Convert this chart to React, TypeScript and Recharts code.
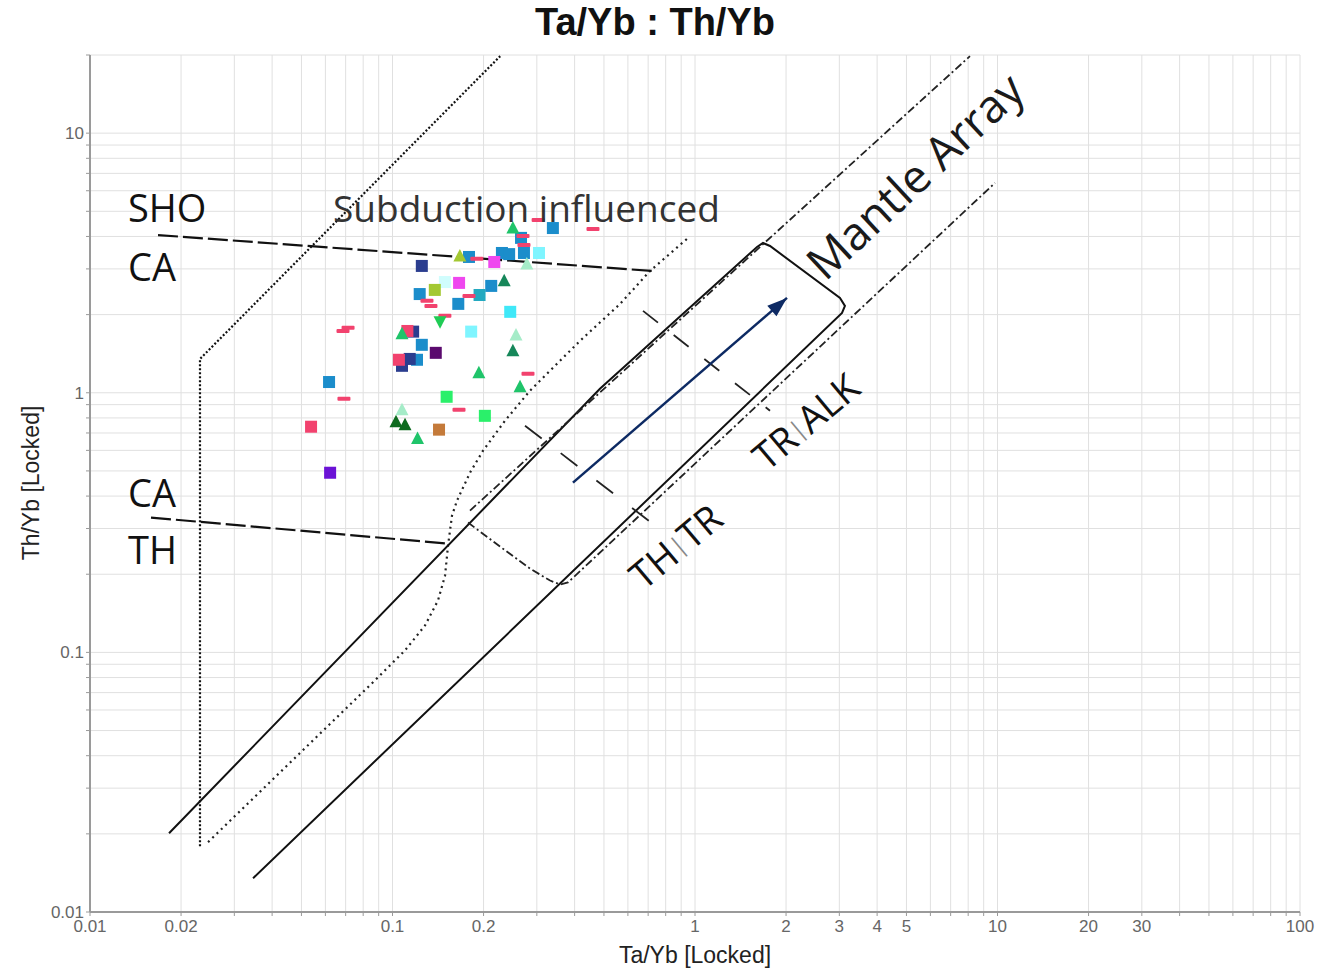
import React from "react";
import { ScatterChart, Scatter, XAxis, YAxis, CartesianGrid } from "recharts";

type Pt = { x: number; y: number };

// ---- axes ----
const X_TICKS = [
  0.01, 0.02, 0.03, 0.04, 0.05, 0.06, 0.07, 0.08, 0.09,
  0.1, 0.2, 0.3, 0.4, 0.5, 0.6, 0.7, 0.8, 0.9,
  1, 2, 3, 4, 5, 6, 7, 8, 9,
  10, 20, 30, 40, 50, 60, 70, 80, 90, 100,
];
const X_LABELLED = [0.01, 0.02, 0.1, 0.2, 1, 2, 3, 4, 5, 10, 20, 30, 100];
const Y_TICKS = [
  0.01, 0.02, 0.03, 0.04, 0.05, 0.06, 0.07, 0.08, 0.09,
  0.1, 0.2, 0.3, 0.4, 0.5, 0.6, 0.7, 0.8, 0.9,
  1, 2, 3, 4, 5, 6, 7, 8, 9, 10, 20,
];
const Y_LABELLED = [0.01, 0.1, 1, 10];

// ---- diagram boundaries ----
const LEFT_LIMIT: Pt[] = [
  { x: 0.0231, y: 0.0179 },
  { x: 0.0231, y: 1.35 },
  { x: 0.227, y: 19.8 },
];
const ARRAY_SOLID: Pt[] = [
  { x: 0.01825, y: 0.0201 },
  { x: 0.485, y: 1.036 },
  { x: 1.603, y: 3.643 },
  { x: 1.678, y: 3.776 },
  { x: 1.77, y: 3.676 },
  { x: 3.015, y: 2.32 },
  { x: 3.131, y: 2.161 },
  { x: 3.062, y: 2.031 },
  { x: 0.0346, y: 0.0135 },
];
const ARRAY_DASHDOT_UPPER: Pt[] = [
  { x: 0.1804, y: 0.3517 },
  { x: 8.11, y: 19.8 },
];
const ARRAY_DASHDOT_LOWER: Pt[] = [
  { x: 0.1777, y: 0.3162 },
  { x: 0.2266, y: 0.2557 },
  { x: 0.2847, y: 0.2104 },
  { x: 0.3318, y: 0.1891 },
  { x: 0.3579, y: 0.1826 },
  { x: 0.3803, y: 0.1859 },
  { x: 9.81, y: 6.43 },
];
const SHO_CA: Pt[] = [
  { x: 0.01678, y: 4.05 },
  { x: 0.721, y: 2.945 },
];
const CA_TH: Pt[] = [
  { x: 0.01591, y: 0.3306 },
  { x: 0.1514, y: 0.2625 },
];
const SUBDUCTION_LIMIT: Pt[] = [
  { x: 0.02456, y: 0.01859 },
  { x: 0.0875, y: 0.078 },
  { x: 0.11, y: 0.1018 },
  { x: 0.1281, y: 0.127 },
  { x: 0.1414, y: 0.1585 },
  { x: 0.1492, y: 0.1978 },
  { x: 0.1526, y: 0.2579 },
  { x: 0.1573, y: 0.3365 },
  { x: 0.1634, y: 0.3843 },
  { x: 0.1804, y: 0.4924 },
  { x: 0.1992, y: 0.5982 },
  { x: 0.2354, y: 0.7803 },
  { x: 0.2847, y: 1.018 },
  { x: 0.4168, y: 1.585 },
  { x: 0.5652, y: 2.199 },
  { x: 0.7099, y: 2.945 },
  { x: 0.9482, y: 3.947 },
];
const TH_TR_DIVIDE: Pt[] = [
  { x: 0.2742, y: 0.7465 },
  { x: 0.7376, y: 0.308 },
];
const TR_ALK_DIVIDE: Pt[] = [
  { x: 0.6732, y: 2.068 },
  { x: 1.77, y: 0.8528 },
];
const TREND_ARROW: Pt[] = [
  { x: 0.395, y: 0.4506 },
  { x: 2.014, y: 2.32 },
];

// ---- samples ----
const BLUE_SQ: Pt[] = [
  { x: 0.339, y: 4.31 }, { x: 0.266, y: 3.95 }, { x: 0.272, y: 3.455 },
  { x: 0.23, y: 3.455 }, { x: 0.243, y: 3.42 }, { x: 0.179, y: 3.335 },
  { x: 0.212, y: 2.58 }, { x: 0.165, y: 2.2 }, { x: 0.123, y: 2.4 },
  { x: 0.125, y: 1.53 }, { x: 0.1205, y: 1.34 }, { x: 0.0617, y: 1.1 },
];
const NAVY_SQ: Pt[] = [
  { x: 0.125, y: 3.08 }, { x: 0.117, y: 1.72 }, { x: 0.114, y: 1.35 }, { x: 0.1075, y: 1.27 },
];
const PINK_SQ: Pt[] = [{ x: 0.112, y: 1.73 }, { x: 0.105, y: 1.34 }, { x: 0.0538, y: 0.74 }];
const MAGENTA_SQ: Pt[] = [{ x: 0.217, y: 3.19 }, { x: 0.166, y: 2.65 }];
const TEAL_SQ: Pt[] = [{ x: 0.194, y: 2.38 }];
const CYAN_SQ: Pt[] = [{ x: 0.245, y: 2.05 }];
const LIGHT_CYAN_SQ: Pt[] = [{ x: 0.182, y: 1.72 }, { x: 0.305, y: 3.455 }];
const PALE_CYAN_SQ: Pt[] = [{ x: 0.149, y: 2.67 }];
const LIME_SQ: Pt[] = [{ x: 0.138, y: 2.49 }];
const PLUM_SQ: Pt[] = [{ x: 0.139, y: 1.425 }];
const VIOLET_SQ: Pt[] = [{ x: 0.0622, y: 0.492 }];
const GREEN_SQ: Pt[] = [{ x: 0.151, y: 0.965 }, { x: 0.202, y: 0.815 }];
const BROWN_SQ: Pt[] = [{ x: 0.1425, y: 0.721 }];
const PINK_DASH: Pt[] = [
  { x: 0.303, y: 4.63 }, { x: 0.46, y: 4.27 }, { x: 0.27, y: 4.02 }, { x: 0.272, y: 3.71 },
  { x: 0.19, y: 3.28 }, { x: 0.179, y: 2.36 }, { x: 0.13, y: 2.26 }, { x: 0.134, y: 2.16 },
  { x: 0.149, y: 1.98 }, { x: 0.0686, y: 1.73 }, { x: 0.0713, y: 1.78 }, { x: 0.2805, y: 1.183 },
  { x: 0.0691, y: 0.948 }, { x: 0.1659, y: 0.86 },
];
const GREEN_TRI: Pt[] = [
  { x: 0.25, y: 4.31 }, { x: 0.193, y: 1.194 }, { x: 0.264, y: 1.055 },
  { x: 0.121, y: 0.666 }, { x: 0.1075, y: 1.686 },
];
const DARK_GREEN_TRI: Pt[] = [{ x: 0.234, y: 2.7 }, { x: 0.25, y: 1.45 }];
const FOREST_TRI: Pt[] = [{ x: 0.1027, y: 0.774 }, { x: 0.11, y: 0.753 }];
const MINT_TRI: Pt[] = [{ x: 0.278, y: 3.135 }, { x: 0.256, y: 1.67 }, { x: 0.1075, y: 0.86 }];
const GREEN_DOWN_TRI: Pt[] = [{ x: 0.1436, y: 1.876 }];
const LIME_TRI: Pt[] = [{ x: 0.167, y: 3.365 }];

// ---- annotations ----
const REGION_LABELS = [
  { x: 0.01335, y: 5.19, text: "SHO" },
  { x: 0.01335, y: 3.08, text: "CA" },
  { x: 0.01335, y: 0.4161, text: "CA" },
  { x: 0.01335, y: 0.2512, text: "TH" },
];
const SUBDUCTION_LABEL = [{ x: 0.0636, y: 5.15, text: "Subduction influenced" }];
const ARRAY_LABEL = [{ x: 5.3, y: 6.9, text: "Mantle Array" }];
const BOUNDARY_LABELS = [
  { x: 0.859, y: 0.2579, left: "TH", right: "TR" },
  { x: 2.311, y: 0.7803, left: "TR", right: "ALK" },
];

const ARROW_ANGLE = -41;
const LABEL_FONT = "'Open Sans', 'Noto Sans', sans-serif";
const AXIS_FONT = "'Liberation Sans', Arial, sans-serif";

const none = () => <g />;
const square = (fill: string) => (p: any) => (
  <rect x={p.cx - 6} y={p.cy - 6} width={12} height={12} fill={fill} />
);
const tri = (fill: string) => (p: any) => (
  <polygon points={`${p.cx},${p.cy - 7} ${p.cx + 6.5},${p.cy + 5.5} ${p.cx - 6.5},${p.cy + 5.5}`} fill={fill} />
);
const triDown = (fill: string) => (p: any) => (
  <polygon points={`${p.cx},${p.cy + 7} ${p.cx + 6.5},${p.cy - 5.5} ${p.cx - 6.5},${p.cy - 5.5}`} fill={fill} />
);
const dash = (fill: string) => (p: any) => (
  <rect x={p.cx - 6.5} y={p.cy - 2} width={13} height={4} rx={1} fill={fill} />
);
const arrowHead = (p: any) => (
  <polygon
    points={`${p.cx},${p.cy} ${p.cx - 20},${p.cy - 7} ${p.cx - 20},${p.cy + 7}`}
    fill="#0d2a63"
    transform={`rotate(${ARROW_ANGLE} ${p.cx} ${p.cy})`}
  />
);
const regionText = (p: any) => (
  <text x={p.cx} y={p.cy} fontSize={38} fontFamily={LABEL_FONT} fill="#111" dominantBaseline="central">
    {p.payload.text}
  </text>
);
const subductionText = (p: any) => (
  <text x={p.cx} y={p.cy} fontSize={37} fontFamily={LABEL_FONT} fill="#333" dominantBaseline="central">
    {p.payload.text}
  </text>
);
const arrayText = (p: any) => (
  <text
    x={p.cx} y={p.cy} fontSize={46} fontFamily={LABEL_FONT} fill="#1a1a1a"
    textAnchor="middle" dominantBaseline="central"
    transform={`rotate(-43 ${p.cx} ${p.cy})`}
  >
    {p.payload.text}
  </text>
);
const boundaryText = (p: any) => (
  <text
    x={p.cx} y={p.cy} fontSize={38} fontFamily={LABEL_FONT} fill="#111"
    textAnchor="middle" dominantBaseline="central"
    transform={`rotate(-40 ${p.cx} ${p.cy})`}
  >
    <tspan>{p.payload.left}</tspan>
    <tspan fill="#888" fontSize={24}>|</tspan>
    <tspan>{p.payload.right}</tspan>
  </text>
);

const lineSeries: { data: Pt[]; style: any }[] = [
  { data: LEFT_LIMIT, style: { stroke: "#111", strokeWidth: 2.2, strokeDasharray: "2 2" } },
  { data: SUBDUCTION_LIMIT, style: { stroke: "#222", strokeWidth: 2.2, strokeDasharray: "2 4" } },
  { data: SHO_CA, style: { stroke: "#111", strokeWidth: 2.2, strokeDasharray: "20 5" } },
  { data: CA_TH, style: { stroke: "#111", strokeWidth: 2.2, strokeDasharray: "20 5" } },
  { data: ARRAY_SOLID, style: { stroke: "#111", strokeWidth: 2 } },
  { data: ARRAY_DASHDOT_UPPER, style: { stroke: "#222", strokeWidth: 1.8, strokeDasharray: "8 3 2 3" } },
  { data: ARRAY_DASHDOT_LOWER, style: { stroke: "#222", strokeWidth: 1.8, strokeDasharray: "8 3 2 3" } },
  { data: TH_TR_DIVIDE, style: { stroke: "#222", strokeWidth: 1.8, strokeDasharray: "21 24" } },
  { data: TR_ALK_DIVIDE, style: { stroke: "#222", strokeWidth: 1.8, strokeDasharray: "19 20" } },
  { data: TREND_ARROW, style: { stroke: "#0d2a63", strokeWidth: 2.5 } },
];

const pointSeries: { data: Pt[]; shape: any }[] = [
  { data: BLUE_SQ, shape: square("#1b8dcb") },
  { data: NAVY_SQ, shape: square("#2b3d8f") },
  { data: PINK_SQ, shape: square("#f2426e") },
  { data: MAGENTA_SQ, shape: square("#ef47ef") },
  { data: TEAL_SQ, shape: square("#23a9c0") },
  { data: CYAN_SQ, shape: square("#3fe8f8") },
  { data: LIGHT_CYAN_SQ, shape: square("#7ff5ff") },
  { data: PALE_CYAN_SQ, shape: square("#d0fdfd") },
  { data: LIME_SQ, shape: square("#a3c832") },
  { data: PLUM_SQ, shape: square("#5b0a6e") },
  { data: VIOLET_SQ, shape: square("#6b12d6") },
  { data: GREEN_SQ, shape: square("#2af06a") },
  { data: BROWN_SQ, shape: square("#c47a3a") },
  { data: PINK_DASH, shape: dash("#f2426e") },
  { data: GREEN_TRI, shape: tri("#1fc46a") },
  { data: DARK_GREEN_TRI, shape: tri("#16875a") },
  { data: FOREST_TRI, shape: tri("#0e6b1f") },
  { data: MINT_TRI, shape: tri("#a5ecc8") },
  { data: GREEN_DOWN_TRI, shape: triDown("#20cc55") },
  { data: LIME_TRI, shape: tri("#a3c832") },
];

const fmt = (labelled: number[]) => (v: number) => (labelled.includes(v) ? String(v) : "");
const tickStyle = { fontSize: 17, fill: "#666", fontFamily: AXIS_FONT };

export default function App() {
  return (
    <div style={{ position: "absolute", left: 0, top: 0, width: 1324, height: 968, background: "#fff", fontFamily: AXIS_FONT }}>
      <div style={{ position: "absolute", left: 0, top: 0, width: 1310, textAlign: "center", fontSize: 38, fontWeight: "bold", lineHeight: "44px", color: "#111" }}>
        Ta/Yb : Th/Yb
      </div>
      <ScatterChart width={1324} height={968} margin={{ top: 55, right: 24, bottom: 26, left: 30 }}>
        <CartesianGrid stroke="#e0e0e0" />
        <XAxis
          type="number" dataKey="x" scale="log" domain={[0.01, 100]} allowDataOverflow
          ticks={X_TICKS} interval={0} tickFormatter={fmt(X_LABELLED)} height={30}
          axisLine={{ stroke: "#9a9a9a", strokeWidth: 2 }} tickLine={{ stroke: "#9a9a9a" }}
          tickSize={4} tickMargin={4} tick={tickStyle}
        />
        <YAxis
          type="number" dataKey="y" scale="log" domain={[0.01, 20]} allowDataOverflow
          ticks={Y_TICKS} interval={0} tickFormatter={fmt(Y_LABELLED)} width={60}
          axisLine={{ stroke: "#9a9a9a", strokeWidth: 2 }} tickLine={{ stroke: "#9a9a9a" }}
          tickSize={4} tick={tickStyle}
        />
        {lineSeries.map((s, i) => (
          <Scatter key={`l${i}`} data={s.data} line={s.style} shape={none} legendType="none" isAnimationActive={false} />
        ))}
        <Scatter data={[TREND_ARROW[1]]} shape={arrowHead} isAnimationActive={false} />
        {pointSeries.map((s, i) => (
          <Scatter key={`p${i}`} data={s.data} shape={s.shape} isAnimationActive={false} />
        ))}
        <Scatter data={REGION_LABELS} shape={regionText} isAnimationActive={false} />
        <Scatter data={SUBDUCTION_LABEL} shape={subductionText} isAnimationActive={false} />
        <Scatter data={ARRAY_LABEL} shape={arrayText} isAnimationActive={false} />
        <Scatter data={BOUNDARY_LABELS} shape={boundaryText} isAnimationActive={false} />
      </ScatterChart>
      <div style={{ position: "absolute", left: 545, top: 942, width: 300, textAlign: "center", fontSize: 23, lineHeight: "26px", color: "#222" }}>
        Ta/Yb [Locked]
      </div>
      <div style={{ position: "absolute", left: -119, top: 470, width: 300, height: 26, textAlign: "center", fontSize: 23, lineHeight: "26px", color: "#222", transform: "rotate(-90deg)" }}>
        Th/Yb [Locked]
      </div>
    </div>
  );
}
